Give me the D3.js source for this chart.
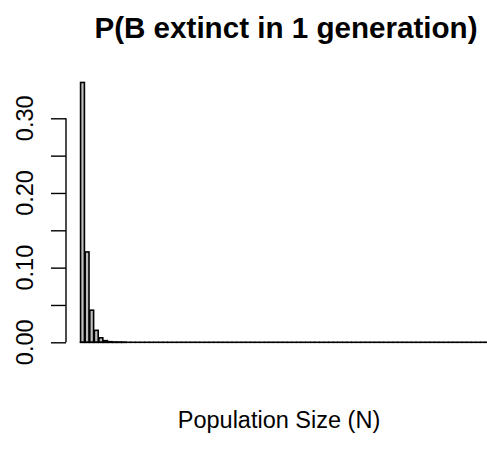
<!DOCTYPE html>
<html>
<head>
<meta charset="utf-8">
<script src="https://cdn.jsdelivr.net/npm/d3@7"></script>
<style>
  body { margin: 0; background: #fff; }
  svg { display: block; font-family: "Liberation Sans", Arial, sans-serif; }
</style>
</head>
<body>
<svg class="chart-svg" width="487" height="466"></svg>
<script>
// probabilities per population size N
const probs = [
  0.348, 0.121, 0.043, 0.016, 0.006, 0.0022, 0.0008, 0.0003, 0.0001, 0.00004,
  0, 0, 0, 0, 0, 0, 0, 0, 0, 0,
  0, 0, 0, 0, 0, 0, 0, 0, 0, 0,
  0, 0, 0, 0, 0, 0, 0, 0, 0, 0,
  0, 0, 0, 0, 0, 0, 0, 0, 0, 0,
  0, 0, 0, 0, 0, 0, 0, 0, 0, 0,
  0, 0, 0, 0, 0, 0, 0, 0, 0, 0,
  0, 0, 0, 0, 0, 0, 0, 0, 0, 0,
  0, 0, 0, 0, 0, 0, 0, 0, 0, 0,
  0, 0, 0, 0, 0, 0, 0, 0, 0, 0
];
const sizes = d3.range(1, probs.length + 1);
const yTicks = [0, 0.05, 0.10, 0.15, 0.20, 0.25, 0.30];
const yLabels = [0, 0.10, 0.20, 0.30];

const svg = d3.select(".chart-svg");

// R barplot style: width 1, space 0.2
const space = 0.2;
const x = d3.scaleLinear()
    .domain([0, 1.2 * probs.length])
    .range([79.8, 79.8 + 4.6 * probs.length]);
const y = d3.scaleLinear()
    .domain([0, 0.3])
    .range([342.3, 118.3]);
const left = i => x(space + i * (1 + space));
const bw = x(1) - x(0);

const bars = svg.append("g");
bars.selectAll("rect")
    .data(probs)
    .join("rect")
    .attr("x", (d, i) => left(i))
    .attr("width", bw)
    .attr("y", d => y(d))
    .attr("height", d => y(0) - y(d))
    .attr("fill", "#bebebe")
    .attr("stroke", "#000")
    .attr("stroke-width", 1.6);

// bottom edges, so that zero-height bars still show as a line
bars.selectAll("line")
    .data(probs)
    .join("line")
    .attr("x1", (d, i) => left(i))
    .attr("x2", (d, i) => left(i) + bw)
    .attr("y1", y(0))
    .attr("y2", y(0))
    .attr("stroke", "#000")
    .attr("stroke-width", 1.6)
    .attr("stroke-linecap", "square");

const axis = svg.append("g")
    .attr("transform", "translate(66,0)");
axis.call(d3.axisLeft(y).tickValues(yTicks).tickSize(15).tickFormat(""));
axis.select(".domain").attr("d", `M0,${y(0)}V${y(0.3)}`).attr("stroke-width", 1.4);
axis.selectAll(".tick line").attr("stroke-width", 1.4);

svg.append("g")
    .selectAll("text")
    .data(yLabels)
    .join("text")
    .attr("transform", d => `translate(33,${y(d)}) rotate(-90)`)
    .attr("text-anchor", "middle")
    .attr("font-size", 23.5)
    .text(d3.format(".2f"));

svg.append("text")
    .attr("x", 286)
    .attr("y", 38)
    .attr("text-anchor", "middle")
    .attr("font-size", 29.6)
    .attr("font-weight", "bold")
    .text("P(B extinct in 1 generation)");

svg.append("text")
    .attr("x", 279)
    .attr("y", 428)
    .attr("text-anchor", "middle")
    .attr("font-size", 23.5)
    .text("Population Size (N)");
</script>
</body>
</html>
